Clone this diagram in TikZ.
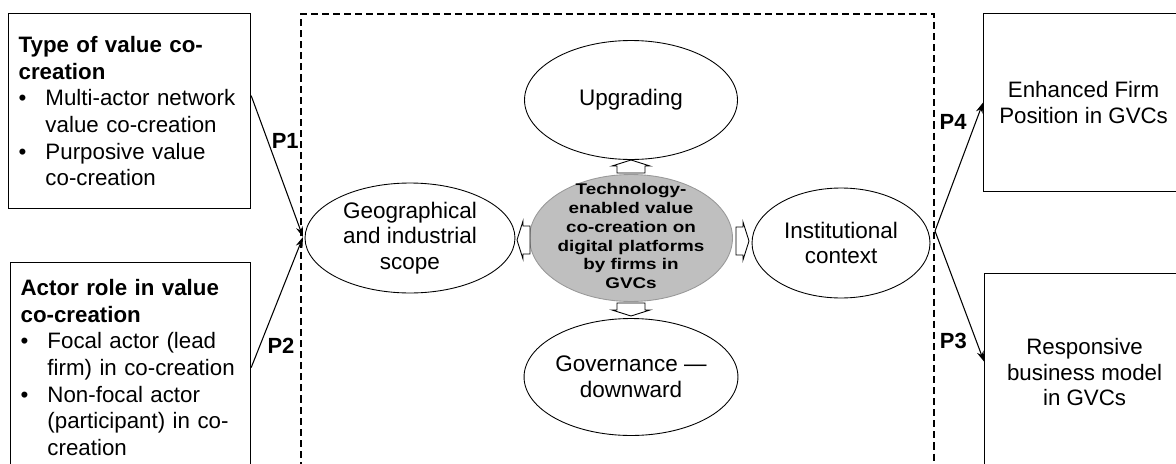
\documentclass[tikz,border=0pt]{standalone}
\usepackage{fontspec}
\usepackage{graphicx}
\setmainfont{Liberation Sans}
\usetikzlibrary{shapes.geometric,arrows.meta}

\newcommand{\bul}{\makebox[15.3pt][l]{\textbullet}}
\newcommand{\ind}{\hspace*{15.3pt}}
\newcommand{\widen}[1]{\scalebox{1.22}[1]{\begin{tabular}{@{}c@{}}#1\end{tabular}}}

\tikzset{
  infobox/.style={draw,line width=0.7pt,anchor=north west,inner sep=0.2cm,
    align=left,font=\fontsize{12.7}{15.2}\selectfont},
  outbox/.style={draw,line width=0.7pt,anchor=north west,minimum width=4cm,
    align=center,font=\fontsize{12.7}{14.6}\selectfont},
  factor/.style={draw,ellipse,line width=0.5pt,inner sep=0pt,align=center,
    font=\fontsize{12.8}{14.6}\selectfont},
  core/.style={draw=black!40,fill=black!25,ellipse,line width=0.5pt,inner sep=0pt},
  coretext/.style={inner sep=0pt,font=\fontsize{8.8}{10.7}\selectfont\bfseries},
  parrow/.style={-{Stealth[length=6pt,width=4pt]},line width=0.6pt},
  plabel/.style={font=\bfseries\fontsize{12.5}{14}\selectfont,inner sep=0pt},
  hollow/.pic={\draw[line width=0.5pt,fill=white]
    (-6,-14) -- (1,-14) -- (1,-19) -- (7,0) -- (1,19) -- (1,14) -- (-6,14) -- cycle;}
}

\begin{document}
\begin{tikzpicture}[x=0.02cm,y=-0.02cm]
\clip (0,0) rectangle (1176,463);

% left boxes
\node[infobox,text width=4.44cm,minimum height=3.9cm] (type) at (8,13)
  {\textbf{Type of value co-}\\
   \textbf{creation}\\
   \bul Multi-actor network\\
   \ind value co-creation\\
   \bul Purposive value\\
   \ind co-creation};
\node[infobox,text width=4.4cm,minimum height=4.2cm] (role) at (10,262)
  {\textbf{Actor role in value}\\
   \textbf{co-creation}\\
   \bul Focal actor (lead\\
   \ind firm) in co-creation\\
   \bul Non-focal actor\\
   \ind (participant) in co-\\
   \ind creation};

% dashed frame
\draw[line width=0.7pt,dash pattern=on 4pt off 2.3pt] (301,480) -- (301,14) -- (934,14) -- (934,480);

% ellipses
\node[factor,minimum width=4.26cm,minimum height=2.38cm] (upg) at (631,100) {Upgrading};
\node[core,minimum width=4.06cm,minimum height=2.54cm] (tech) at (631,238) {};
\node[coretext] (techtxt) at (tech) {\widen{Technology-\\enabled value\\co-creation on\\digital platforms\\by firms in\\GVCs}};
\node[factor,minimum width=4.26cm,minimum height=2.34cm] (gov) at (631,377) {Governance ---\\downward};
\node[factor,minimum width=4.2cm,minimum height=2.2cm] (geo) at (410,238) {Geographical\\and industrial\\scope};
\node[factor,minimum width=3.56cm,minimum height=2.2cm] (inst) at (841,243) {Institutional\\context};

% hollow arrows
\pic[rotate=90] at (631,167) {hollow};
\pic[rotate=-90] at (631,309) {hollow};
\pic[rotate=180] at (524,240) {hollow};
\pic at (742,241) {hollow};

% right boxes
\node[outbox,minimum height=3.56cm] (enh) at (983,13) {Enhanced Firm\\Position in GVCs};
\node[outbox,minimum height=3.94cm] (res) at (984,273) {Responsive\\business model\\in GVCs};

% propositions
\coordinate (join) at (303,237);
\coordinate (fork) at (935,231);
\draw[parrow] ([yshift=8.8pt]type.east) -- (join) node[plabel,pos=0.32,right=2pt] (p1) {P1};
\draw[parrow] (role.east) -- (join) node[plabel,pos=0.17,right=4pt] (p2) {P2};
\draw[parrow] (fork) -- (enh.west) node[plabel,pos=0.85,left=5pt] (p4) {P4};
\draw[parrow] (fork) -- ([yshift=6pt]res.west) node[plabel,pos=0.84,left=5pt] (p3) {P3};
\end{tikzpicture}
\end{document}
